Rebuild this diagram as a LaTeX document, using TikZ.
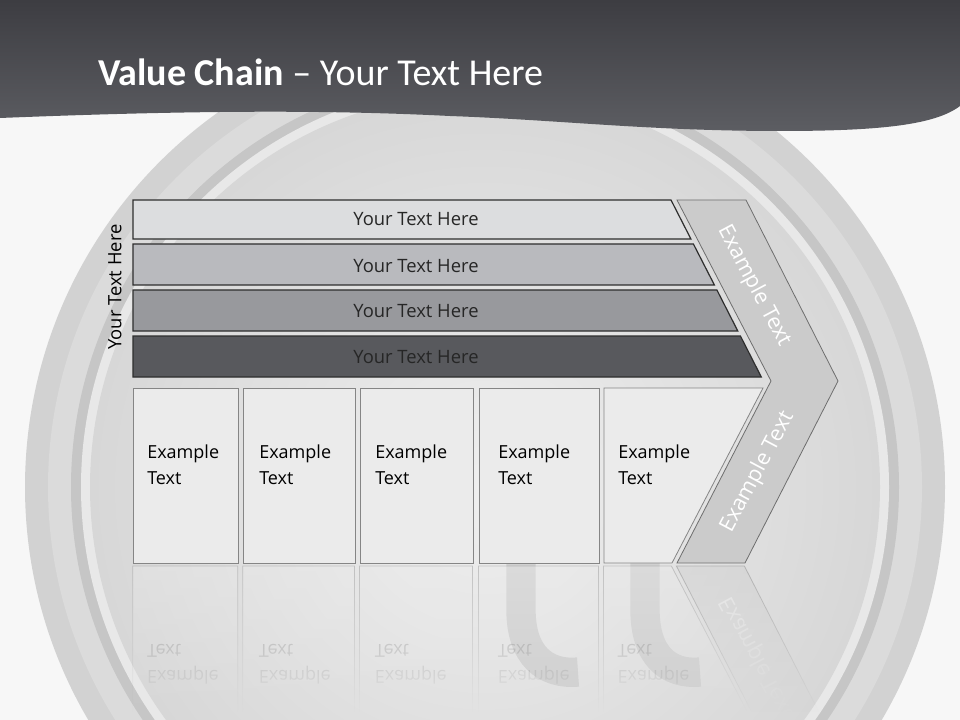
\documentclass[tikz,border=0pt]{standalone}
\usepackage{fontspec}
\setmainfont{Open Sans}
\newfontfamily\titlefont{Carlito}
\usetikzlibrary{fadings}
\definecolor{bg}{HTML}{F7F7F7}
\definecolor{ringOuter}{HTML}{D2D2D2}
\definecolor{ringMid}{HTML}{DBDBDB}
\definecolor{ringDark}{HTML}{C6C6C6}
\definecolor{ringHi}{HTML}{E8E8E8}
\definecolor{discIn}{HTML}{EFEFEF}
\definecolor{discOut}{HTML}{D7D7D7}
\definecolor{hdrTop}{HTML}{3D3D42}
\definecolor{hdrBot}{HTML}{5C5D62}
\definecolor{barA}{HTML}{DCDDDF}
\definecolor{barB}{HTML}{B9BABE}
\definecolor{barC}{HTML}{98999D}
\definecolor{barD}{HTML}{58595D}
\definecolor{barline}{HTML}{2E2E2E}
\definecolor{boxfill}{HTML}{EBEBEB}
\definecolor{boxline}{HTML}{858585}
\definecolor{chevfill}{HTML}{CBCBCB}
\definecolor{chevline}{HTML}{6E6E6E}
\definecolor{bartextc}{HTML}{262626}
\definecolor{hookc}{HTML}{D0D0D0}
\tikzfading[name=reflfade, top color=transparent!35, bottom color=transparent!100]
\tikzset{
  barshape/.style={draw=barline, line width=0.9pt},
  bartext/.style={text=bartextc, font=\fontsize{13.8}{16}\selectfont},
  boxshape/.style={fill=boxfill, draw=boxline, line width=0.6pt},
  boxtext/.style={anchor=west, align=left, inner sep=0pt, text=black, font=\fontsize{13.5}{19.5}\selectfont},
  chev/.style={fill=chevfill, draw=chevline, line width=0.6pt},
  chevtext/.style={text=white, font=\fontsize{16.2}{18}\selectfont},
}
\begin{document}
\begin{tikzpicture}[x=0.75pt,y=-0.75pt]
\useasboundingbox (0,0) rectangle (960,720);
\fill[bg] (0,0) rectangle (960,720);
% background rings
\begin{scope}
  \clip (0,0) rectangle (960,720);
  \fill[ringOuter] (485,487) circle[radius=345pt];
  \fill[ringMid] (485,487) circle[radius=327.75pt];
  \fill[ringDark] (485,487) circle[radius=310.5pt];
  \fill[ringHi] (485,487) circle[radius=303pt];
  \shade[inner color=discIn, outer color=discOut] (485,487) circle[radius=296.25pt];
  % faint background hooks
  \draw[hookc, line width=22pt, line cap=butt] (521,560) -- (521,610) .. controls (521,655) and (545,675) .. (578,672);
  \draw[hookc, line width=22pt, line cap=butt] (645,560) -- (645,610) .. controls (645,655) and (668,675) .. (700,672);
\end{scope}
% header
\shade[top color=hdrTop, bottom color=hdrBot]
  (0,0) -- (960,0) -- (960,106)
  .. controls (935,125) and (880,131) .. (780,131)
  .. controls (650,131) and (560,120) .. (450,116)
  .. controls (330,110) and (200,110) .. (0,118) -- cycle;
\node[anchor=base west, text=white, inner sep=0pt, font=\titlefont\fontsize{28.5}{32}\selectfont] (title) at (98,86) {\textbf{Value Chain} – Your Text Here};

% reflection
\begin{scope}[transparency group, opacity=0.6]
  \path[scope fading=reflfade, fit fading=true] (120,565) rectangle (860,712);
  \begin{scope}[shift={(0,1129)}, yscale=-1, transform shape]
    \draw[boxshape] (133,388) rectangle (238,563);
    \draw[boxshape] (243,388) rectangle (355,563);
    \draw[boxshape] (360,388) rectangle (473,563);
    \draw[boxshape] (479,388) rectangle (599,563);
    \draw[boxshape] (604,388) -- (763,388) -- (672,563) -- (604,563) -- cycle;
    \node[boxtext, text=black!70] (r1) at (147,465) {Example\\Text};
    \node[boxtext, text=black!70] (r2) at (259,465) {Example\\Text};
    \node[boxtext, text=black!70] (r3) at (375,465) {Example\\Text};
    \node[boxtext, text=black!70] (r4) at (498,465) {Example\\Text};
    \node[boxtext, text=black!70] (r5) at (618,465) {Example\\Text};
    \draw[chev] (771,381) -- (838,381) -- (745,563) -- (677,563) -- cycle;
    \node[chevtext, rotate=62] (rc) at (757.5,472) {Example Text};
  \end{scope}
\end{scope}

% bars
\draw[barshape, fill=barA] (133,200) -- (671,200) -- (690.9,239) -- (133,239) -- cycle;
\draw[barshape, fill=barB] (133,244) -- (693.4,244) -- (714.4,285) -- (133,285) -- cycle;
\draw[barshape, fill=barC] (133,290) -- (716.9,290) -- (737.8,331) -- (133,331) -- cycle;
\draw[barshape, fill=barD] (133,336) -- (740.4,336) -- (761.3,377) -- (133,377) -- cycle;
\node[bartext] (b1) at (416,219) {Your Text Here};
\node[bartext] (b2) at (416,266) {Your Text Here};
\node[bartext] (b3) at (416,311) {Your Text Here};
\node[bartext] (b4) at (416,357) {Your Text Here};
\node[bartext, text=black, rotate=90] (side) at (115,287) {Your Text Here};

% chevron
\draw[chev] (677,200) -- (746,200) -- (838,381) -- (745,563) -- (677,563) -- (771,381) -- cycle;
\node[chevtext, rotate=-62] (c1) at (754,286) {Example Text};
\node[chevtext, rotate=62] (c2) at (757.5,472) {Example Text};

% boxes
\draw[boxshape] (133,388) rectangle (238,563);
\draw[boxshape] (243,388) rectangle (355,563);
\draw[boxshape] (360,388) rectangle (473,563);
\draw[boxshape] (479,388) rectangle (599,563);
\draw[boxshape] (604,388) -- (763,388) -- (672,563) -- (604,563) -- cycle;
\node[boxtext] (t1) at (147,465) {Example\\Text};
\node[boxtext] (t2) at (259,465) {Example\\Text};
\node[boxtext] (t3) at (375,465) {Example\\Text};
\node[boxtext] (t4) at (498,465) {Example\\Text};
\node[boxtext] (t5) at (618,465) {Example\\Text};
\end{tikzpicture}
\end{document}
